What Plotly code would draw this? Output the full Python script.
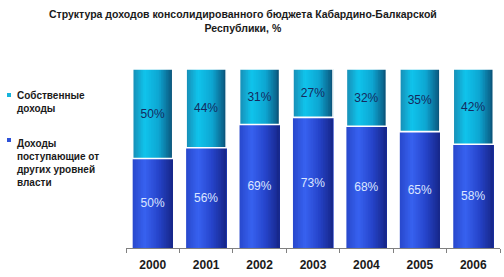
import plotly.graph_objects as go

years = ["2000", "2001", "2002", "2003", "2004", "2005", "2006"]
transfers = [50, 56, 69, 73, 68, 65, 58]
own = [50, 44, 31, 27, 32, 35, 42]
title_lines = ["Структура доходов консолидированного бюджета Кабардино-Балкарской", "Республики, %"]
legend_own = ["Собственные", "доходы"]
legend_transfers = ["Доходы", "поступающие от", "других уровней", "власти"]

FONT = "Liberation Sans, Arial, sans-serif"
W, H = 504, 277
L, R, T, B = 126, 4, 69, 29
PW, PH = W - L - R, H - T - B
BAR_W = 0.75
N_STRIPS = 24

CYAN_STOPS = [(0.0, (0x18, 0x8c, 0xb4)), (0.3, (0x10, 0xc4, 0xec)),
              (0.65, (0x0e, 0xa6, 0xd2)), (1.0, (0x0a, 0x52, 0x78))]
BLUE_STOPS = [(0.0, (0x28, 0x48, 0xcc)), (0.3, (0x38, 0x62, 0xf0)),
              (0.65, (0x26, 0x44, 0xca)), (1.0, (0x16, 0x26, 0x88))]


def grad(stops, t):
    for (t0, c0), (t1, c1) in zip(stops, stops[1:]):
        if t <= t1:
            f = (t - t0) / (t1 - t0)
            return "rgb(%d,%d,%d)" % tuple(round(a + (b - a) * f) for a, b in zip(c0, c1))
    return "rgb(%d,%d,%d)" % stops[-1][1]


def px_x(px):
    return (px - L) / PW


def px_y(py):
    return (H - B - py) / PH


def bold_lines(lines):
    return "<br>".join(f"<b>{s}</b>" for s in lines)


fig = go.Figure()
strip_w = BAR_W / N_STRIPS
for vals, bases, stops in ((transfers, [0] * len(years), BLUE_STOPS),
                           (own, transfers, CYAN_STOPS)):
    for i in range(N_STRIPS):
        t = (i + 0.5) / N_STRIPS
        fig.add_trace(go.Bar(
            x=years, y=vals, base=bases,
            width=BAR_W - i * strip_w, offset=-BAR_W / 2 + i * strip_w,
            marker=dict(color=grad(stops, t), line=dict(width=0), opacity=1),
            opacity=1, hoverinfo="skip", showlegend=False,
        ))

# label layers (transparent fill); the white outline of the top one gives the divider
fig.add_trace(go.Bar(
    x=years, y=transfers, base=[0] * len(years), width=BAR_W,
    marker=dict(color="rgba(0,0,0,0)", line=dict(width=0)),
    text=[f"{v}%" for v in transfers], textposition="inside",
    insidetextanchor="middle", textangle=0,
    textfont=dict(family=FONT, size=12, color="#dce6ff"),
    showlegend=False, hoverinfo="skip",
))
fig.add_trace(go.Bar(
    x=years, y=own, base=transfers, width=BAR_W,
    marker=dict(color="rgba(0,0,0,0)", line=dict(color="white", width=1.6)),
    text=[f"{v}%" for v in own], textposition="inside",
    insidetextanchor="middle", textangle=0,
    textfont=dict(family=FONT, size=12, color="#15295e"),
    showlegend=False, hoverinfo="skip",
))

fig.update_layout(
    width=W, height=H,
    margin=dict(l=L, r=R, t=T, b=B),
    barmode="overlay",
    paper_bgcolor="white", plot_bgcolor="white",
    font=dict(family=FONT),
    uniformtext=dict(mode="show", minsize=8),
    xaxis=dict(
        type="category", range=[-0.5, 6.5],
        showline=True, linecolor="#808080", linewidth=1,
        ticks="outside", tickson="boundaries", ticklen=4, tickcolor="#808080",
        tickfont=dict(family=FONT, size=12, color="#1a1a1a", weight="bold"),
        ticklabelstandoff=6,
        showgrid=False, fixedrange=True, layer="above traces",
    ),
    yaxis=dict(range=[0, 100], visible=False, showgrid=False, fixedrange=True),
    shapes=[
        dict(type="rect", xref="paper", yref="paper",
             x0=px_x(7), x1=px_x(11), y0=px_y(97), y1=px_y(93),
             fillcolor="#16b4dc", line=dict(width=0)),
        dict(type="rect", xref="paper", yref="paper",
             x0=px_x(7), x1=px_x(11), y0=px_y(142), y1=px_y(138),
             fillcolor="#2e52d8", line=dict(width=0)),
    ],
    annotations=[
        dict(text=bold_lines(title_lines), xref="paper", yref="paper",
             x=px_x(243), y=px_y(6), xanchor="center", yanchor="top", showarrow=False,
             font=dict(family=FONT, size=10.5, color="#1a1a1a", weight="bold")),
        dict(text=bold_lines(legend_own), xref="paper", yref="paper",
             x=px_x(15), y=px_y(88), xanchor="left", yanchor="top", showarrow=False,
             align="left", font=dict(family=FONT, size=10, color="#1a1a1a", weight="bold")),
        dict(text=bold_lines(legend_transfers), xref="paper", yref="paper",
             x=px_x(15), y=px_y(136), xanchor="left", yanchor="top", showarrow=False,
             align="left", font=dict(family=FONT, size=10, color="#1a1a1a", weight="bold")),
    ],
)

fig.write_html("out.html")
